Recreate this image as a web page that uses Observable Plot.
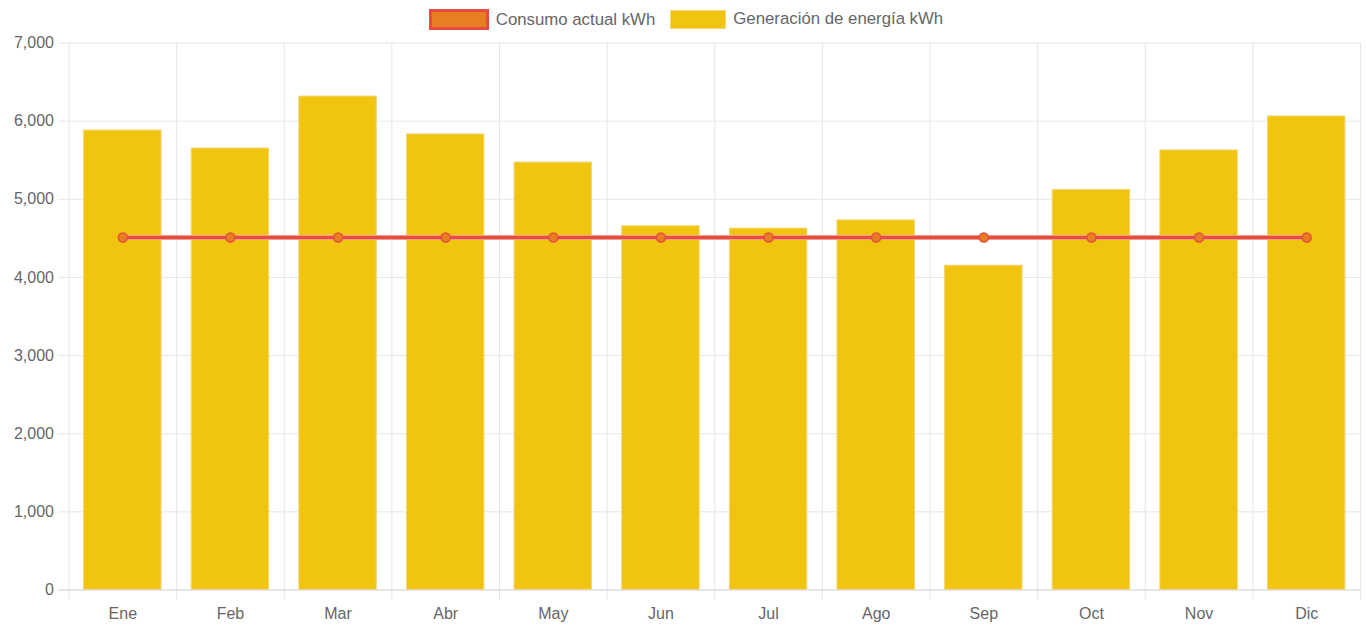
<!DOCTYPE html>
<html>
<head>
<meta charset="utf-8">
<script src="https://cdn.jsdelivr.net/npm/d3@7"></script>
<script src="https://cdn.jsdelivr.net/npm/@observablehq/plot@0.6"></script>
<style>
  html, body { margin: 0; padding: 0; background: #fff; }
  body { width: 1366px; height: 627px; overflow: hidden; font-family: "Liberation Sans", Arial, sans-serif; }
  #legend { height: 30px; display: flex; justify-content: center; align-items: flex-start; padding-top: 9px; color: #666; font-size: 16.8px; padding-left: 6px; box-sizing: border-box; }
  .item { display: flex; align-items: center; margin: 0 7px; }
  .sw { box-sizing: border-box; margin-right: 7px; }
  #chart svg { display: block; }
</style>
</head>
<body>
<div id="legend"></div>
<div id="chart"></div>
<script>
const months = ["Ene","Feb","Mar","Abr","May","Jun","Jul","Ago","Sep","Oct","Nov","Dic"];
const generacion = [5880, 5650, 6315, 5830, 5470, 4655, 4625, 4730, 4150, 5120, 5625, 6060];
const consumo = [4510, 4510, 4510, 4510, 4510, 4510, 4510, 4510, 4510, 4510, 4510, 4510];
const yTicks = [0, 1000, 2000, 3000, 4000, 5000, 6000, 7000];
const seriesNames = ["Consumo actual kWh", "Generación de energía kWh"];

const data = months.map((m, i) => ({month: m, gen: generacion[i], con: consumo[i]}));

// legend
const legend = document.getElementById("legend");
legend.innerHTML = `
  <div class="item"><div class="sw" style="width:60px;height:21px;background:#e67e22;border:3px solid #e74c3c"></div><span>${seriesNames[0]}</span></div>
  <div class="item" style="margin-left:8px"><div class="sw" style="width:56px;height:19px;background:#f1c40f;border:1px solid #f3d77a"></div><span>${seriesNames[1]}</span></div>`;

const W = 1366, H = 597;
const mL = 68.5, mR = 6, mT = 12.5, mB = 37.5;
const step = (W - mL - mR) / months.length;
const gridColor = "#e6e6e6";

const chart = Plot.plot({
  width: W,
  height: H,
  marginLeft: mL,
  marginRight: mR,
  marginTop: mT,
  marginBottom: mB,
  style: {fontFamily: "'Liberation Sans', Arial, sans-serif", fontSize: "16px", color: "#666", background: "#fff", overflow: "visible"},
  x: {domain: months, paddingInner: 0.28, paddingOuter: 0.14, round: false, label: null},
  y: {domain: [0, 7000], label: null},
  marks: [
    Plot.ruleY(yTicks, {stroke: gridColor, strokeWidth: 1, insetLeft: -10}),
    Plot.ruleX(months, {x: d => d, dx: -step / 2, stroke: gridColor, strokeWidth: 1, insetBottom: -10}),
    Plot.ruleX([months[months.length - 1]], {x: d => d, dx: step / 2, stroke: gridColor, strokeWidth: 1, insetBottom: -10}),
    Plot.barY(data, {x: "month", y: "gen", fill: "#f1c40f", stroke: "#f3d77a", strokeWidth: 1}),
    Plot.ruleY([0], {stroke: "#d9d9d9", insetLeft: -10}),
    Plot.lineY(data, {x: "month", y: "con", stroke: "#f5b7b1", strokeWidth: 5}),
    Plot.lineY(data, {x: "month", y: "con", stroke: "#e74c3c", strokeWidth: 3.5}),
    Plot.dot(data, {x: "month", y: "con", r: 4.5, fill: "#e67e22", stroke: "#e74c3c", strokeWidth: 1.5}),
    Plot.axisY(yTicks, {tickSize: 0, tickPadding: 15, tickFormat: d3.format(","), fill: "#666", fontSize: 16}),
    Plot.axisX({tickSize: 0, tickPadding: 18, fill: "#666", fontSize: 16})
  ]
});
document.getElementById("chart").appendChild(chart);
</script>
</body>
</html>
